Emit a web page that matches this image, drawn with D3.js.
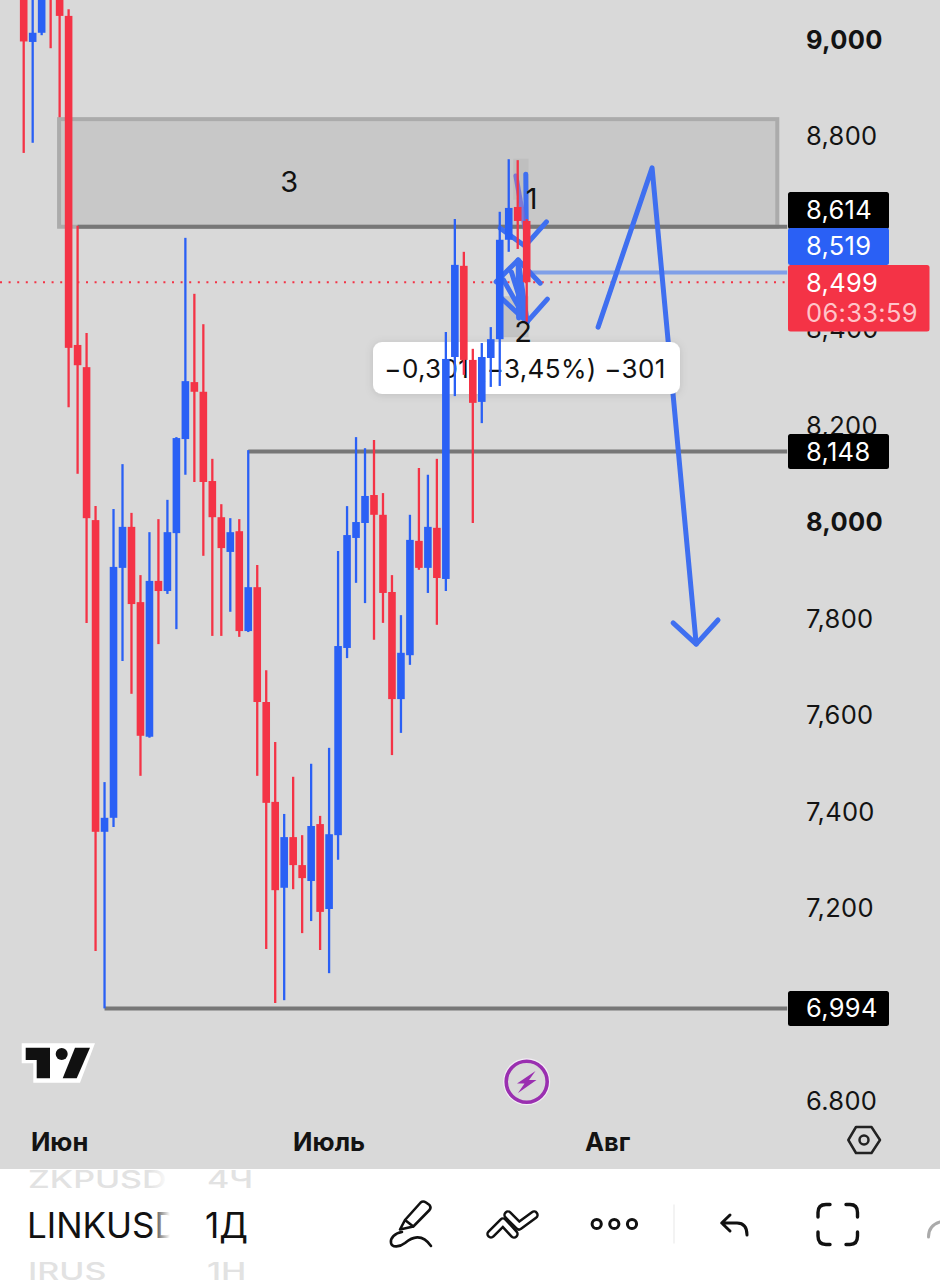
<!DOCTYPE html>
<html><head><meta charset="utf-8">
<script src="https://cdn.jsdelivr.net/npm/d3@7/dist/d3.min.js"></script>
<style>html,body{margin:0;padding:0;background:#fff}svg{display:block}text{font-family:Inter,"Noto Sans",sans-serif}</style>
</head><body><svg id="c" width="940" height="1280"></svg>
<script>
// Daily candles, bar 0 = 28 May
const opens = [9145,8997,9016,9140,9180,9051,8369,8323,8006,7360,7389,7907,7992,7836,7557,7880,7859,7979,8174,8292,8272,8087,8012,7940,7983,7776,7867,7629,7422,7244,7349,7291,7258,7376,7200,7353,7741,7969,8000,8058,8017,7857,7635,7726,7963,7907,7990,7884,8344,8533,8338,8251,8342,8381,8587,8655,8626];
const highs = [9210,9125,9180,9200,9210,9065,8616,8394,8035,7463,8029,8122,8021,7892,7981,8008,8048,8178,8591,8475,8412,8133,8039,8010,8008,8151,7913,7695,7546,7397,7474,7353,7501,7393,7534,7942,8035,8178,8155,8172,8062,7892,7809,8017,8114,8100,8133,8396,8630,8562,8361,8373,8406,8645,8754,8752,8630];
const lows = [8767,8788,9011,8984,8841,8240,8102,7793,7113,6994,7370,7714,7646,7476,7555,7749,7853,7780,8100,8085,7932,7766,7766,7816,7764,7774,7476,7117,7005,7011,7241,7150,7175,7115,7067,7302,7720,7876,7834,7758,7793,7519,7565,7706,7903,7855,7789,7859,8263,8307,8000,8207,8282,8284,8562,8568,8417];
const closes = [8998,9016,9145,9087,9051,8363,8327,8010,7360,7389,7909,7992,7832,7559,7880,7859,7981,8176,8294,8272,8085,8012,7948,7981,7776,7867,7629,7420,7239,7349,7291,7264,7372,7194,7355,7745,7975,8002,8056,8017,7855,7635,7731,7965,7907,7992,7886,8340,8535,8338,8249,8344,8381,8587,8653,8626,8499];

const priceTicks = [9000,8800,8600,8400,8200,8000,7800,7600,7400,7200,6800];
const priceTickLabels = ["9,000","8,800","8,600","8,400","8,200","8,000","7,800","7,600","7,400","7,200","6.800"];
const boldPriceTicks = [9000,8000];
const monthBars = [4,34,65];
const monthLabels = ["Июн","Июль","Авг"];

// Levels: price, first bar
const levelPrices = [8614,8148,6994];
const levelStartBars = [6,25,9];
const lastPrice = 8499, bluePrice = 8519;
const endBar = 85;

// Hand drawings, [bar, price]
const zone = {bar0:3.94, bar1:83.9, top:8837, bottom:8614};
const longArrow = [[63.95,8406],[69.96,8736],[74.87,7749]];
const longArrowHead = [[72.3,7793],[74.87,7749],[77.3,7799]];
const chevronTop = [[53.05,8611],[55.8,8574],[58.2,8624]];
const chevronUp = [[52.6,8500],[55.05,8545],[57.5,8497]];
const chevronBottom = [[53.05,8468],[56.05,8417],[58.3,8464]];
const fanLines = [[[55.05,8545],[56.05,8417]],[[54.3,8520],[56.05,8417]],[[53.4,8504],[56.05,8417]],[[55.05,8545],[55.1,8425]]];
const topStrokes = [[[54.8,8719],[56.05,8587]]];
const topVertical = [[55.9,8723],[55.95,8603]];
const shadeBoxes = [{bar0:54.5,bar1:56.2,top:8755,bottom:8670},{bar0:53.4,bar1:56.2,top:8470,bottom:8385}];
const noteLabels = [{t:"3",bar:29.55,price:8707},{t:"1",bar:56.55,price:8673},{t:"2",bar:55.6,price:8396}];

const svg = d3.select("#c");
const x = d3.scaleLinear().domain([0,56]).range([23.7,526.7]);
const y = d3.scaleLinear().domain([9000,6800]).range([40.5,1102]);
const RED="#f43346", BLUE="#2a60f5", LINE="#777777", DRAW="#3f6ff0";

const defs = svg.append("defs");
defs.append("clipPath").attr("id","chart").append("rect").attr("width",940).attr("height",1169);
const fade = defs.append("linearGradient").attr("id","fade");
fade.append("stop").attr("offset","0").attr("stop-color","#fff").attr("stop-opacity",0);
fade.append("stop").attr("offset","1").attr("stop-color","#fff").attr("stop-opacity",1);
const sh = defs.append("filter").attr("id","sh").attr("x","-5%").attr("y","-20%").attr("width","110%").attr("height","140%");
sh.append("feDropShadow").attr("dx",0).attr("dy",1).attr("stdDeviation",4).attr("flood-color","#000").attr("flood-opacity",0.12);

svg.append("rect").attr("width",940).attr("height",1280).attr("fill","#fff");
const g = svg.append("g").attr("clip-path","url(#chart)");
g.append("rect").attr("width",940).attr("height",1169).attr("fill","#d9d9d9");

const line = d3.line().x(d=>x(d[0])).y(d=>y(d[1]));

// zone
g.append("rect").attr("x",x(zone.bar0)).attr("y",y(zone.top)).attr("width",x(zone.bar1)-x(zone.bar0)).attr("height",y(zone.bottom)-y(zone.top))
 .attr("fill","#c8c8c8").attr("stroke","#ababab").attr("stroke-width",4);
g.selectAll(".shade").data(shadeBoxes).join("rect").attr("x",d=>x(d.bar0)).attr("y",d=>y(d.top)).attr("width",d=>x(d.bar1)-x(d.bar0)).attr("height",d=>y(d.bottom)-y(d.top)).attr("fill","#bdbdbd").attr("opacity",.8);

// levels
g.selectAll(".lvl").data(levelPrices).join("line").attr("x1",(d,i)=>x(levelStartBars[i])).attr("x2",x(endBar)).attr("y1",d=>y(d)).attr("y2",d=>y(d)).attr("stroke",LINE).attr("stroke-width",4);
g.append("line").attr("x1",x(56)).attr("x2",x(endBar)).attr("y1",y(bluePrice)).attr("y2",y(bluePrice)).attr("stroke","#7f9fe8").attr("stroke-width",4);
g.append("line").attr("x1",0).attr("x2",x(endBar)).attr("y1",y(lastPrice)).attr("y2",y(lastPrice)).attr("stroke",RED).attr("stroke-width",2).attr("stroke-dasharray","2 6.6");

// drawings
const strokes = [longArrow,longArrowHead,chevronTop,chevronUp,chevronBottom,topVertical,...fanLines];
g.selectAll(".draw").data(strokes).join("path").attr("d",line).attr("fill","none").attr("stroke",DRAW).attr("stroke-width",5).attr("stroke-linecap","round").attr("stroke-linejoin","round");
g.selectAll(".draw2").data(topStrokes).join("path").attr("d",line).attr("fill","none").attr("stroke","#6a66d8").attr("stroke-width",5).attr("stroke-opacity",.8).attr("stroke-linecap","round");

// measure tooltip
g.append("rect").attr("x",373).attr("y",342).attr("width",307).attr("height",52).attr("rx",9).attr("fill","#fff").attr("filter","url(#sh)");
g.append("text").attr("x",525).attr("y",368.5).attr("text-anchor","middle").attr("dominant-baseline","central").attr("font-size",26).attr("letter-spacing",.35).attr("fill","#111").text("−0,301 (−3,45%) −301");

// candles
const idx = d3.range(closes.length);
const color = i => closes[i] >= opens[i] ? BLUE : RED;
g.selectAll(".wick").data(idx).join("line").attr("x1",i=>x(i)).attr("x2",i=>x(i)).attr("y1",i=>y(highs[i])).attr("y2",i=>y(lows[i])).attr("stroke",color).attr("stroke-width",2.3);
g.selectAll(".body").data(idx).join("rect").attr("x",i=>x(i)-3.8).attr("width",7.6).attr("y",i=>y(Math.max(opens[i],closes[i]))).attr("height",i=>Math.abs(y(opens[i])-y(closes[i]))).attr("fill",color);

// notes
g.selectAll(".note").data(noteLabels).join("text").attr("x",d=>x(d.bar)).attr("y",d=>y(d.price)).attr("text-anchor","middle").attr("dominant-baseline","central").attr("font-size",29).attr("fill","#111").text(d=>d.t);

// price axis
g.selectAll(".tick").data(priceTicks).join("text").attr("x",806).attr("y",d=>y(d)-1.5).attr("dominant-baseline","central")
 .attr("font-size",25.5).attr("letter-spacing",.3).attr("fill","#131313").attr("font-weight",d=>boldPriceTicks.includes(d)?700:400)
 .text((d,i)=>priceTickLabels[i]);

// month axis
g.selectAll(".month").data(monthBars).join("text").attr("x",d=>x(d)).attr("y",1141).attr("text-anchor","middle").attr("dominant-baseline","central")
 .attr("font-size",25.5).attr("font-weight",700).attr("fill","#131313").text((d,i)=>monthLabels[i]);

// price tags
function tag(top,h,w,fill,lines){
  g.append("rect").attr("x",788).attr("y",top).attr("width",w).attr("height",h).attr("rx",2.5).attr("fill",fill);
  lines.forEach(l=>g.append("text").attr("x",806).attr("y",l.y).attr("dominant-baseline","central").attr("font-size",25.5).attr("letter-spacing",.3).attr("fill",l.c).text(l.t));
}
const f = d3.format(",");
const y148=y(8148), y994=y(6994);
tag(192,37,101,"#000",[{t:f(8614),y:209.5,c:"#fff"}]);
tag(228,37,101,BLUE,[{t:f(bluePrice),y:245.5,c:"#fff"}]);
tag(265,66.5,141.5,RED,[{t:f(lastPrice),y:282,c:"#fff"},{t:"06:33:59",y:312,c:"#ffc4c9"}]);
tag(y148-17.5,35,101,"#000",[{t:f(8148),y:y148-.5,c:"#fff"}]);
tag(y994-17.5,35,101,"#000",[{t:f(6994),y:y994-.5,c:"#fff"}]);

// logo
g.append("path").attr("d","M21.7 1043.3H95L80 1082.7H33.3V1063.3H21.7Z").attr("fill","#fff");
g.append("path").attr("d","M25.7 1047.7H50V1078.3H36.7V1060H25.7Z").attr("fill","#111");
g.append("circle").attr("cx",61.7).attr("cy",1054).attr("r",6).attr("fill","#111");
g.append("path").attr("d","M75 1047.7H90L76.7 1078.3H62.7Z").attr("fill","#111");

// bolt badge
g.append("circle").attr("cx",526.7).attr("cy",1081.7).attr("r",23.5).attr("fill","#f3ecf5");
g.append("circle").attr("cx",526.7).attr("cy",1081.7).attr("r",20.5).attr("fill","#d9d9d9").attr("stroke","#9a2fb0").attr("stroke-width",3.6);
g.append("path").attr("d","M535.5 1071L517 1083.5H524.5L518 1093L536.5 1080H529Z").attr("fill","#9a2fb0");

// settings
g.append("path").attr("d","M848.3 1140L856 1127H871.5L880 1140L871.5 1153H856Z").attr("fill","none").attr("stroke","#222").attr("stroke-width",2.5).attr("stroke-linejoin","round");
g.append("circle").attr("cx",864).attr("cy",1140).attr("r",4.5).attr("fill","none").attr("stroke","#222").attr("stroke-width",2.5);

// toolbar wheel
const tb = svg.append("g");
const wheel = [
 {t:"ZKPUSD",x:28,y:1179,s:34,c:"#e2e2e2",sy:.72},{t:"4Ч",x:207,y:1179,s:34,c:"#e2e2e2",sy:.72},
 {t:"LINKUSD",x:27,y:1225,s:35,c:"#111",sy:1},{t:"1Д",x:205,y:1225,s:35,c:"#111",sy:1},
 {t:"IRUS",x:28,y:1271,s:34,c:"#e2e2e2",sy:.72},{t:"1Н",x:207,y:1271,s:34,c:"#e2e2e2",sy:.72}];
tb.selectAll("text").data(wheel).join("text").attr("transform",d=>`translate(${d.x},${d.y}) scale(1,${d.sy})`).attr("dominant-baseline","central").attr("font-size",d=>d.s).attr("font-weight",d=>d.sy<1?500:400).attr("fill",d=>d.c).text(d=>d.t);
tb.append("rect").attr("x",150).attr("y",1169).attr("width",20).attr("height",111).attr("fill","url(#fade)");
tb.append("rect").attr("x",170).attr("y",1169).attr("width",30).attr("height",111).attr("fill","#fff");

const ic = tb.append("g").attr("fill","none").attr("stroke","#111").attr("stroke-width",2.6).attr("stroke-linecap","round").attr("stroke-linejoin","round");
ic.append("path").attr("d","M400 1229.5L405 1220L420.7 1202.5Q423 1200.5 426 1202.5L429.5 1205Q431.5 1207.5 429.5 1210L413.3 1226.5ZM405 1220L413.3 1226.5");
ic.append("path").attr("d","M402 1232C395 1233 390 1238 391 1243C392 1248 400 1247 405 1243C412 1237 422 1233 431 1246");
// zigzag
const zz1="M491 1234L503 1222L514 1234", zz2="M508 1215L519 1226L534 1215";
[zz1,zz2].forEach(d=>{ic.append("path").attr("d",d).attr("stroke-width",9.5);});
[zz1,zz2].forEach(d=>{ic.append("path").attr("d",d).attr("stroke","#fff").attr("stroke-width",4.5);});
[596.7,614.3,632].forEach(cx=>ic.append("circle").attr("cx",cx).attr("cy",1224).attr("r",4.6).attr("stroke-width",3));
ic.append("line").attr("x1",674).attr("x2",674).attr("y1",1205).attr("y2",1243).attr("stroke","#efefef").attr("stroke-width",1.5);
ic.append("path").attr("d","M730 1215L721.7 1223L730 1231M722 1223H737Q747 1223 747 1235").attr("stroke-width",3);
ic.append("path").attr("d","M830 1204.5H826Q818 1204.5 818 1212.5V1217M846 1204.5H850Q857.5 1204.5 857.5 1212.5V1217M818 1232V1236Q818 1244.5 826 1244.5H830M857.5 1232V1236Q857.5 1244.5 850 1244.5H846").attr("stroke-width",3.4);
ic.append("path").attr("d","M928.5 1237C928.5 1229 933 1224 940 1222").attr("stroke","#aaa").attr("stroke-width",3);
</script></body></html>
